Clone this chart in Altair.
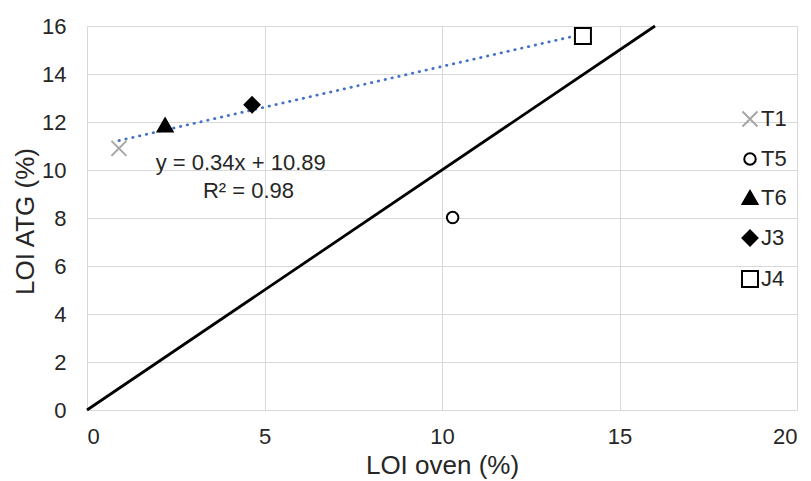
import altair as alt
import pandas as pd

series = ["T1", "T5", "T6", "J3", "J4"]
loi_oven = [0.9, 10.3, 2.2, 4.65, 13.97]
loi_atg = [10.9, 8.02, 11.85, 12.72, 15.58]
trend_series = ["T1", "T6", "J3", "J4"]
identity_x = [0, 16]
eq_lines = ["y = 0.34x + 10.89", "R² = 0.98"]
eq_x = [4.33, 4.55]
eq_y = [10.29, 9.13]

shapes = [
    "M-1.5,-1.5L1.5,1.5M-1.5,1.5L1.5,-1.5",
    "M-1.15,0A1.15,1.15 0 1,1 1.15,0A1.15,1.15 0 1,1 -1.15,0Z",
    "M0,-1.4L1.5,1.2L-1.5,1.2Z",
    "M0,-1.5L1.5,0L0,1.5L-1.5,0Z",
    "M-1.6,-1.6L1.6,-1.6L1.6,1.6L-1.6,1.6Z",
]
fills = ["transparent", "white", "black", "black", "white"]
strokes = ["#a6a6a6", "black", "black", "black", "black"]

pts = pd.DataFrame({"series": series, "x": loi_oven, "y": loi_atg})
trend = pts[pts["series"].isin(trend_series)]
ident = pd.DataFrame({"x": identity_x, "y": identity_x})
eq = pd.DataFrame({"t": eq_lines, "x": eq_x, "y": eq_y})

FONT = "Liberation Sans"
TXT = "#262626"
GRID = "#d9d9d9"

xscale = alt.Scale(domain=[0, 20], nice=False, zero=False)
yscale = alt.Scale(domain=[0, 16], nice=False, zero=False)

xaxis = alt.Axis(values=[0, 5, 10, 15, 20], title="LOI oven (%)", grid=True, gridColor=GRID,
                 domainColor=GRID, ticks=False, labelPadding=16, labelFontSize=22,
                 labelColor=TXT, labelFont=FONT, titleFont=FONT, titleFontSize=26,
                 titleFontWeight="normal", titleColor=TXT, titleY=55, titleBaseline="middle")
yaxis = alt.Axis(values=[0, 2, 4, 6, 8, 10, 12, 14, 16], title="LOI ATG (%)", grid=True,
                 gridColor=GRID, domainColor=GRID, ticks=False, labelPadding=21,
                 labelFontSize=22, labelColor=TXT, labelFont=FONT, titleFont=FONT,
                 titleFontSize=26, titleFontWeight="normal", titleColor=TXT,
                 titleX=-62, titleY=195, titleBaseline="middle")

identity = alt.Chart(ident).mark_line(color="black", strokeWidth=2.75).encode(
    x=alt.X("x:Q", scale=xscale, axis=xaxis),
    y=alt.Y("y:Q", scale=yscale, axis=yaxis),
)

trendline = alt.Chart(trend).transform_regression("x", "y", extent=[0.9, 13.97]).mark_line(
    color="#4472C4", strokeWidth=2.75, strokeDash=[0.5, 6.5], strokeCap="round"
).encode(x=alt.X("x:Q", scale=xscale), y=alt.Y("y:Q", scale=yscale))

leg = alt.Legend(title=None, orient="none", legendX=647, legendY=82, labelFontSize=22,
                 labelFont=FONT, labelColor=TXT, rowPadding=17, labelOffset=0,
                 symbolOffset=5, symbolSize=100, symbolStrokeWidth=2, symbolOpacity=1)

points = alt.Chart(pts).mark_point(strokeWidth=2, opacity=1, size=100).encode(
    x=alt.X("x:Q", scale=xscale),
    y=alt.Y("y:Q", scale=yscale),
    shape=alt.Shape("series:N", scale=alt.Scale(domain=series, range=shapes), legend=leg),
    fill=alt.Fill("series:N", scale=alt.Scale(domain=series, range=fills), legend=leg),
    stroke=alt.Stroke("series:N", scale=alt.Scale(domain=series, range=strokes), legend=leg),
)

text = alt.Chart(eq).mark_text(fontSize=22, font=FONT, color=TXT, align="center",
                               baseline="middle").encode(
    x=alt.X("x:Q", scale=xscale), y=alt.Y("y:Q", scale=yscale), text="t:N")

chart = alt.layer(identity, trendline, points, text).properties(
    width=710, height=384,
    autosize=alt.AutoSizeParams(type="none"),
    padding={"left": 79, "top": 18, "right": 6, "bottom": 70},
).configure_view(stroke=None).configure(background="white")

chart.save("out.html", embed_options={"renderer": "svg", "actions": False})
